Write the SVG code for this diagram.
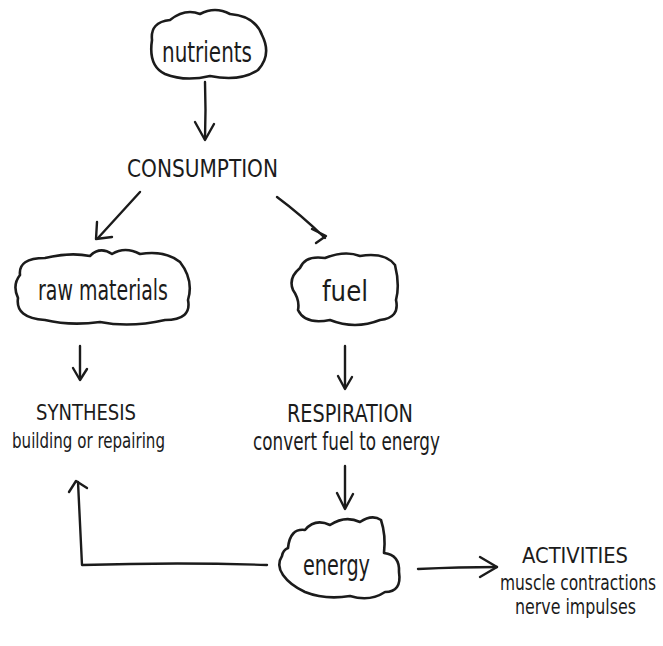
<svg xmlns="http://www.w3.org/2000/svg" width="663" height="646" viewBox="0 0 663 646">
<style>
.bg{fill:#ffffff}
.cloud{fill:none;stroke:#1b1b1b;stroke-width:2.6;stroke-linejoin:round;stroke-linecap:round}
.line{fill:none;stroke:#1b1b1b;stroke-width:2.4;stroke-linecap:round;stroke-linejoin:round}
text{font-family:"Liberation Sans Narrow","DejaVu Sans Condensed","Liberation Sans",sans-serif;fill:#1b1b1b;text-anchor:start}
.lbl{font-size:29px}
.cap{font-size:24px}
.sub{font-size:22px}
.small{font-size:17px}
</style>
<rect class="bg" width="663" height="646"/>
<g id="connectors">
  <path class="line" d="M205,82 Q206,110 205,139"/>
  <path class="line" d="M195,122 L205,140 L214,124"/>
  <path class="line" d="M140,192 Q120,214 98,238"/>
  <path class="line" d="M97,222 L96,239 L112,237"/>
  <path class="line" d="M277,197 Q300,214 325,238"/>
  <path class="line" d="M312,229 L326,236 L316,243"/>
  <path class="line" d="M80,346 L80,379"/>
  <path class="line" d="M73,368 L80,380 L87,369"/>
  <path class="line" d="M345,346 L345,388"/>
  <path class="line" d="M338,376 L345,389 L352,377"/>
  <path class="line" d="M345,466 L345,508"/>
  <path class="line" d="M337,493 L345,509 L353,494"/>
  <path class="line" d="M267,565 Q180,562 82,565 L78,482"/>
  <path class="line" d="M69,492 L76,481 L87,488"/>
  <path class="line" d="M418,569 Q460,567 497,567"/>
  <path class="line" d="M480,557 L497,567 L480,577"/>
</g>
<g id="nutrients">
  <path class="cloud" d="M152,40 Q150,22 170,20 Q185,8 200,14 Q215,6 230,14 Q255,16 262,35 Q272,55 258,70 Q240,82 210,76 Q185,82 165,74 Q148,66 152,40 Z"/>
  <text class="lbl" x="162" y="62" textLength="90" lengthAdjust="spacingAndGlyphs">nutrients</text>
</g>
<g id="consumption">
  <text class="cap" x="127" y="177" font-size="26" textLength="151" lengthAdjust="spacingAndGlyphs">CONSUMPTION</text>
</g>
<g id="raw-materials">
  <path class="cloud" d="M20,275 Q18,258 45,258 Q70,252 90,256 Q100,246 112,254 Q125,246 140,254 Q165,250 180,262 Q194,280 188,300 Q192,320 165,320 Q130,328 100,322 Q70,326 45,320 Q15,318 18,298 Q12,285 20,275 Z"/>
  <text class="lbl" x="38" y="300" textLength="130" lengthAdjust="spacingAndGlyphs">raw materials</text>
</g>
<g id="fuel">
  <path class="cloud" d="M300,268 Q305,255 325,258 Q345,250 360,256 Q385,252 395,265 Q400,285 396,300 Q400,318 380,320 Q355,330 330,320 Q305,325 298,310 Q300,300 293,290 Q288,278 300,268 Z"/>
  <text class="lbl" x="322" y="301" font-size="32" textLength="46" lengthAdjust="spacingAndGlyphs">fuel</text>
</g>
<g id="synthesis">
  <text class="sub" x="36" y="420" textLength="100" lengthAdjust="spacingAndGlyphs">SYNTHESIS</text>
  <text class="sub" x="12" y="448" textLength="153" lengthAdjust="spacingAndGlyphs">building or repairing</text>
</g>
<g id="respiration">
  <text class="cap" x="287" y="422" textLength="126" lengthAdjust="spacingAndGlyphs">RESPIRATION</text>
  <text class="cap" x="253" y="450" textLength="187" lengthAdjust="spacingAndGlyphs">convert fuel to energy</text>
</g>
<g id="energy">
  <path class="cloud" d="M288,548 Q290,528 305,530 Q315,518 330,525 Q345,515 360,522 Q372,514 381,520 Q386,535 384,553 Q400,555 399,572 Q402,592 385,592 Q370,602 350,596 Q325,600 305,592 Q290,585 283,575 Q276,565 282,556 Q283,550 288,548 Z"/>
  <text class="lbl" x="303" y="575" font-size="26" textLength="67" lengthAdjust="spacingAndGlyphs">energy</text>
</g>
<g id="activities">
  <text class="sub" x="522" y="563" textLength="106" lengthAdjust="spacingAndGlyphs">ACTIVITIES</text>
  <text class="small" transform="translate(500,590) scale(1,1.25)" x="0" y="0" textLength="156" lengthAdjust="spacingAndGlyphs">muscle contractions</text>
  <text class="small" transform="translate(515,614) scale(1,1.25)" x="0" y="0" textLength="121" lengthAdjust="spacingAndGlyphs">nerve impulses</text>
</g>
</svg>
